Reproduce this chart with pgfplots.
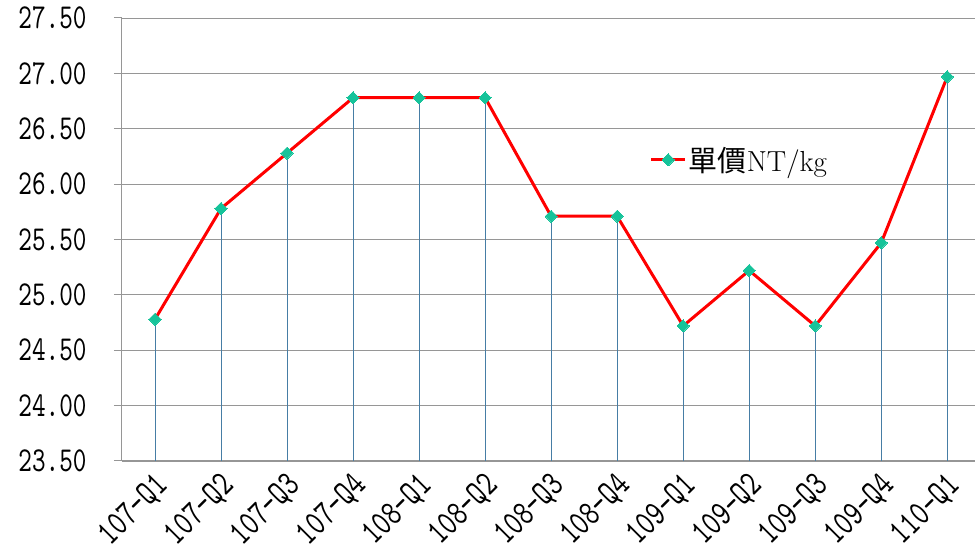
\documentclass[border=0pt]{standalone}
\usepackage{pgfplots}
\pgfplotsset{compat=1.18}
\usepackage{fontspec}
\newfontfamily\tickfont{lmmono10-regular}[Extension=.otf,FakeStretch=0.74]
\newfontfamily\cjk{Noto Sans CJK TC}
\definecolor{mk}{RGB}{22,195,154}
\definecolor{drop}{RGB}{70,125,165}
\definecolor{gridc}{RGB}{150,150,150}
\begin{document}
\begin{tikzpicture}
\begin{axis}[
  scale only axis, width=853pt, height=443pt,
  xmin=-0.5, xmax=12.42, ymin=23.5, ymax=27.5,
  axis x line*=bottom, axis y line*=left,
  axis line style={draw=gridc, line width=1pt},
  ytick={23.5,24,24.5,25,25.5,26,26.5,27,27.5},
  /pgf/number format/fixed, /pgf/number format/fixed zerofill, /pgf/number format/precision=2, /pgf/number format/assume math mode=true,
  yticklabel style={font=\tickfont\fontsize{35}{35}\selectfont, anchor=east, xshift=-24pt},
  ytick style={draw=gridc, line width=1pt},
  tick align=outside, major tick length=8pt,
  xtick={0,...,12},
  xticklabels={107–Q1,107–Q2,107–Q3,107–Q4,108–Q1,108–Q2,108–Q3,108–Q4,109–Q1,109–Q2,109–Q3,109–Q4,110–Q1},
  xtick style={draw=none},
  xticklabel style={font=\tickfont\fontsize{36}{36}\selectfont, rotate=45, anchor=east, inner sep=1pt, xshift=-1pt, yshift=-14pt},
  ymajorgrids, major grid style={draw=gridc, line width=0.9pt},
  legend style={at={(0.615,0.68)}, anchor=west, draw=none, fill=none, font=\fontsize{29}{29}\selectfont},
  legend image code/.code={\draw[mark repeat=2,mark phase=2,#1] plot coordinates {(0pt,0pt) (17pt,0pt) (34pt,0pt)};},
]
\addplot[ycomb, draw=drop, line width=0.9pt, forget plot] coordinates {
(0,24.78) (1,25.78) (2,26.28) (3,26.78) (4,26.78) (5,26.78) (6,25.71) (7,25.71) (8,24.72) (9,25.22) (10,24.72) (11,25.47) (12,26.97)};
\addplot[red, line width=3pt, mark=square*, mark size=4.3pt, mark options={fill=mk, draw=mk, line width=0pt, rotate=45}] coordinates {
(0,24.78) (1,25.78) (2,26.28) (3,26.78) (4,26.78) (5,26.78) (6,25.71) (7,25.71) (8,24.72) (9,25.22) (10,24.72) (11,25.47) (12,26.97)};
\addlegendentry{{\cjk 單價}NT/kg}
\end{axis}
\pgfresetboundingbox
\path[use as bounding box] ([xshift=-122pt,yshift=-90pt]current axis.south west) rectangle ([yshift=18pt]current axis.north east);
\end{tikzpicture}
\end{document}
